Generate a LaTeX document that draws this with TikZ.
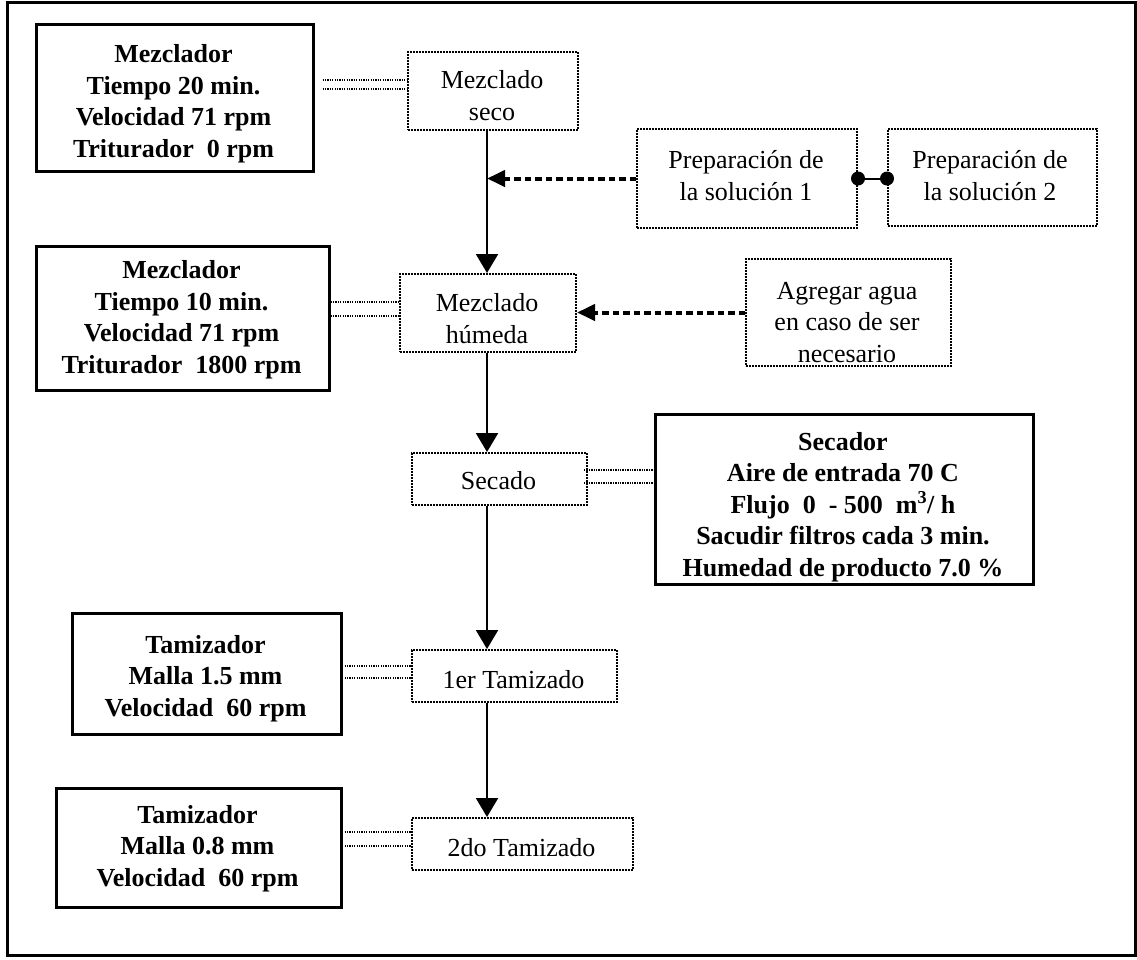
\documentclass[tikz,border=0pt]{standalone}
\usepackage{fontspec}
\setmainfont{Liberation Serif}
\usetikzlibrary{arrows.meta,calc}
\begin{document}
\begin{tikzpicture}[x=1pt,y=-1pt,
  every node/.style={font=\fontsize{26}{31.5}\selectfont},
  param/.style={draw, line width=2.5pt, inner sep=0pt, anchor=north west},
  stage/.style={draw, line width=2pt, dash pattern=on 1.6pt off 1.4pt, inner sep=0pt, anchor=north west},
  ptext/.style={font=\fontsize{26}{31.5}\selectfont\bfseries, align=center, anchor=base, inner sep=0pt},
  stext/.style={align=center, anchor=base, inner sep=0pt},
  flow/.style={line width=2.2pt, -{Triangle[width=22pt,length=19pt]}},
  feed/.style={line width=4pt, dash pattern=on 6.5pt off 4pt, -{Triangle[width=16pt,length=18pt]}},
  link/.style={line width=1.3pt, dash pattern=on 1.3pt off 1.1pt},
  ball/.style={fill=black},
]
\useasboundingbox (0,0) rectangle (1137,959);
\draw[line width=3pt] (7,2) rectangle (1135,955);

% process stages (dotted boxes); text nodes sit on the baseline of their last line
\node[stage, minimum width=170pt, minimum height=78pt] (seco) at (407,51) {};
\node[stage, minimum width=220pt, minimum height=99pt] (sol1) at (636,128) {};
\node[stage, minimum width=209pt, minimum height=97pt] (sol2) at (887,128) {};
\node[stage, minimum width=176pt, minimum height=78pt] (hum) at (399,273) {};
\node[stage, minimum width=205pt, minimum height=107pt] (agua) at (745,258) {};
\node[stage, minimum width=175pt, minimum height=52pt] (dry) at (411,452) {};
\node[stage, minimum width=205pt, minimum height=52pt] (sieve1) at (411,649) {};
\node[stage, minimum width=221pt, minimum height=52pt] (sieve2) at (411,817) {};

\node[stext] (seco-t) at (492,120) {Mezclado\\seco};
\node[stext] (sol1-t) at (746,200) {Preparación de\\la solución 1};
\node[stext] (sol2-t) at (990,200) {Preparación de\\la solución 2};
\node[stext] (hum-t) at (487,343) {Mezclado\\húmeda};
\node[stext] (agua-t) at (847,362) {Agregar agua\\en caso de ser\\necesario};
\node[stext] (dry-t) at (498.5,489) {Secado};
\node[stext] (sieve1-t) at (513.5,688) {1er Tamizado};
\node[stext] (sieve2-t) at (521.5,856) {2do Tamizado};

% equipment settings (solid boxes)
\node[param, minimum width=277pt, minimum height=147pt] (mixA) at (35,23) {};
\node[param, minimum width=293pt, minimum height=144pt] (mixB) at (35,245) {};
\node[param, minimum width=378pt, minimum height=170pt] (dryer) at (654,413) {};
\node[param, minimum width=269pt, minimum height=121pt] (tamA) at (71,612) {};
\node[param, minimum width=285pt, minimum height=119pt] (tamB) at (55,787) {};

\node[ptext] (mixA-t) at (173.5,157) {Mezclador\\Tiempo 20 min.\\Velocidad 71 rpm\\Triturador~~0 rpm};
\node[ptext] (mixB-t) at (181.5,373) {Mezclador\\Tiempo 10 min.\\Velocidad 71 rpm\\Triturador~~1800 rpm};
\node[ptext] (dryer-t) at (843,576) {Secador\\Aire de entrada 70 C\\Flujo~~0~~-~500~~m\textsuperscript{3}/~h\\Sacudir filtros cada 3 min.\\Humedad de producto 7.0 \%};
\node[ptext] (tamA-t) at (205.5,716) {Tamizador\\Malla 1.5 mm\\Velocidad~~60 rpm};
\node[ptext] (tamB-t) at (197.5,886) {Tamizador\\Malla 0.8 mm\\Velocidad~~60 rpm};

% main flow
\coordinate (axis) at (487,0);
\draw[flow] (seco.south -| axis) -- (hum.north -| axis);
\draw[flow] (hum.south -| axis) -- (dry.north -| axis);
\draw[flow] (dry.south -| axis) -- (sieve1.north -| axis);
\draw[flow] (sieve1.south -| axis) -- (sieve2.north -| axis);

% additions
\draw[feed] (sol1.west) -- (sol1.west -| axis);
\draw[feed] (agua.west) -- (agua.west -| hum.east);
\draw[line width=2pt] (sol1.east) -- (sol2.west |- sol1.east);
\fill[ball] (sol1.east) circle (7pt);
\fill[ball] (sol2.west |- sol1.east) circle (7pt);

% settings links (double dotted lines)
\foreach \dy in {-11,-2} {
  \draw[link] ($(seco.west -| mixA.east)+(8,\dy)$) -- ($(seco.west)+(0,\dy)$);
}
\foreach \dy in {-11,3} {
  \draw[link] ($(hum.west -| mixB.east)+(0,\dy)$) -- ($(hum.west)+(0,\dy)$);
}
\foreach \dy in {-9,4} {
  \draw[link] ($(dry.east)+(-4,\dy)$) -- ($(dry.east -| dryer.west)+(0,\dy)$);
}
\foreach \dy in {-10,2} {
  \draw[link] ($(sieve1.west -| tamA.east)+(2,\dy)$) -- ($(sieve1.west)+(0,\dy)$);
}
\foreach \dy in {-12,2} {
  \draw[link] ($(sieve2.west -| tamB.east)+(2,\dy)$) -- ($(sieve2.west)+(0,\dy)$);
}
\end{tikzpicture}
\end{document}
